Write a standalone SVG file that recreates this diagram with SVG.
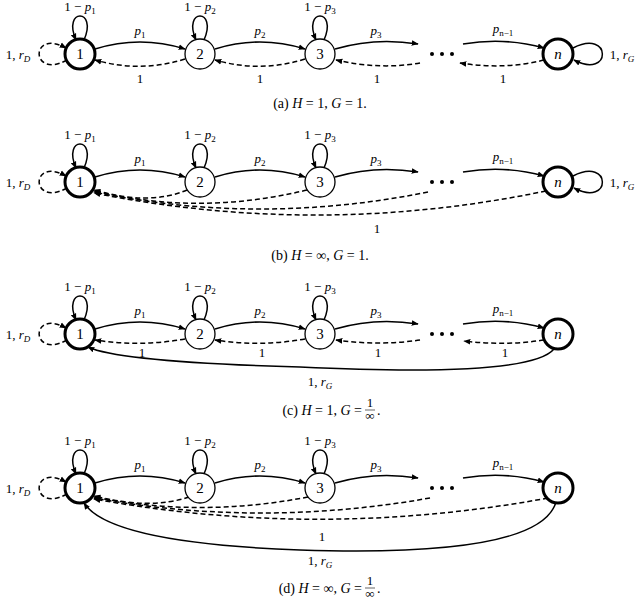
<svg xmlns="http://www.w3.org/2000/svg" width="640" height="602" viewBox="0 0 640 602">
<style>
text{font-family:"Liberation Serif","DejaVu Serif",serif;font-size:13px;text-anchor:middle;fill:#000}
.i{font-style:italic}
.s{font-size:9px}
.cap{font-size:14px}
.node circle{fill:#fff;stroke:#000;stroke-width:1.3}
.node.b circle{stroke-width:3}
.node text{font-size:15px}
.e{fill:none;stroke:#000;stroke-width:1.5;marker-end:url(#ah)}
.d{stroke-dasharray:5 3}
</style>
<defs>
<marker id="ah" viewBox="0 0 10 10" refX="9" refY="5" markerWidth="7" markerHeight="7" markerUnits="userSpaceOnUse" orient="auto"><path d="M0,1 L10,5 L0,9 Z"/></marker>
<g id="dots"><circle cx="432" cy="0" r="2"/><circle cx="442" cy="0" r="2"/><circle cx="452" cy="0" r="2"/></g>
</defs>

<!-- ===== Panel (a) ===== -->
<g transform="translate(0,54)">
<g id="connectors-a">
<path class="e" d="M84,-14 C98,-46 62,-46 76,-14"/>
<path class="e" d="M204,-14 C218,-46 182,-46 196,-14"/>
<path class="e" d="M324,-14 C338,-46 302,-46 316,-14"/>
<path class="e d" d="M67,6 C30,26 30,-26 66,-6"/>
<path class="e" d="M95,-5 Q140,-19 185,-5"/>
<path class="e" d="M215,-5 Q260,-19 305,-5"/>
<path class="e" d="M335,-5 Q375,-17 418,-10"/>
<path class="e" d="M463,-10 Q505,-17 544,-6"/>
<path class="e d" d="M185,5 Q140,19 95,6"/>
<path class="e d" d="M305,5 Q260,19 215,6"/>
<path class="e d" d="M420,9 Q380,16 336,6"/>
<path class="e d" d="M544,6 Q505,16 460,9"/>
<path class="e" d="M573,-6 C612,-26 612,26 574,6"/>
</g>
<use href="#dots"/>
<g class="node b" id="a-n1"><circle cx="80" cy="0" r="15"/><text x="80" y="5">1</text></g>
<g class="node" id="a-n2"><circle cx="200" cy="0" r="15"/><text x="200" y="5">2</text></g>
<g class="node" id="a-n3"><circle cx="320" cy="0" r="15"/><text x="320" y="5">3</text></g>
<g class="node b" id="a-nn"><circle cx="558" cy="0" r="15"/><text class="i" x="558" y="5">n</text></g>
<text x="80" y="-43">1 − <tspan class="i">p</tspan><tspan class="s" dy="3">1</tspan></text>
<text x="200" y="-43">1 − <tspan class="i">p</tspan><tspan class="s" dy="3">2</tspan></text>
<text x="320" y="-43">1 − <tspan class="i">p</tspan><tspan class="s" dy="3">3</tspan></text>
<text x="140" y="-19"><tspan class="i">p</tspan><tspan class="s" dy="3">1</tspan></text>
<text x="260" y="-19"><tspan class="i">p</tspan><tspan class="s" dy="3">2</tspan></text>
<text x="376" y="-19"><tspan class="i">p</tspan><tspan class="s" dy="3">3</tspan></text>
<text x="503" y="-21"><tspan class="i">p</tspan><tspan class="s" dy="3">n−1</tspan></text>
<text x="140" y="29">1</text><text x="260" y="29">1</text><text x="377" y="29">1</text><text x="503" y="29">1</text>
<text x="18" y="5">1, <tspan class="i">r</tspan><tspan class="s i" dy="3">D</tspan></text>
<text x="622" y="5">1, <tspan class="i">r</tspan><tspan class="s i" dy="3">G</tspan></text>
<text class="cap" x="320" y="54">(a) <tspan class="i">H</tspan> = 1, <tspan class="i">G</tspan> = 1.</text>
</g>

<!-- ===== Panel (b) ===== -->
<g transform="translate(0,182)">
<g id="connectors-b">
<path class="e" d="M84,-14 C98,-46 62,-46 76,-14"/>
<path class="e" d="M204,-14 C218,-46 182,-46 196,-14"/>
<path class="e" d="M324,-14 C338,-46 302,-46 316,-14"/>
<path class="e d" d="M67,6 C30,26 30,-26 66,-6"/>
<path class="e" d="M95,-5 Q140,-19 185,-5"/>
<path class="e" d="M215,-5 Q260,-19 305,-5"/>
<path class="e" d="M335,-5 Q375,-17 418,-10"/>
<path class="e" d="M463,-10 Q505,-17 544,-6"/>
<path class="e d" d="M187,8 Q150,24 94,8"/>
<path class="e d" d="M307,8 Q200,34 94,9"/>
<path class="e d" d="M428,10 Q260,44 94,10"/>
<path class="e d" d="M546,9 Q320,56 94,11"/>
<path class="e" d="M573,-6 C612,-26 612,26 574,6"/>
</g>
<use href="#dots"/>
<g class="node b" id="b-n1"><circle cx="80" cy="0" r="15"/><text x="80" y="5">1</text></g>
<g class="node" id="b-n2"><circle cx="200" cy="0" r="15"/><text x="200" y="5">2</text></g>
<g class="node" id="b-n3"><circle cx="320" cy="0" r="15"/><text x="320" y="5">3</text></g>
<g class="node b" id="b-nn"><circle cx="558" cy="0" r="15"/><text class="i" x="558" y="5">n</text></g>
<text x="80" y="-43">1 − <tspan class="i">p</tspan><tspan class="s" dy="3">1</tspan></text>
<text x="200" y="-43">1 − <tspan class="i">p</tspan><tspan class="s" dy="3">2</tspan></text>
<text x="320" y="-43">1 − <tspan class="i">p</tspan><tspan class="s" dy="3">3</tspan></text>
<text x="140" y="-19"><tspan class="i">p</tspan><tspan class="s" dy="3">1</tspan></text>
<text x="260" y="-19"><tspan class="i">p</tspan><tspan class="s" dy="3">2</tspan></text>
<text x="376" y="-19"><tspan class="i">p</tspan><tspan class="s" dy="3">3</tspan></text>
<text x="503" y="-21"><tspan class="i">p</tspan><tspan class="s" dy="3">n−1</tspan></text>
<text x="377" y="51">1</text>
<text x="18" y="5">1, <tspan class="i">r</tspan><tspan class="s i" dy="3">D</tspan></text>
<text x="622" y="5">1, <tspan class="i">r</tspan><tspan class="s i" dy="3">G</tspan></text>
<text class="cap" x="320" y="78">(b) <tspan class="i">H</tspan> = ∞, <tspan class="i">G</tspan> = 1.</text>
</g>

<!-- ===== Panel (c) ===== -->
<g transform="translate(0,334)">
<g id="connectors-c">
<path class="e" d="M84,-14 C98,-46 62,-46 76,-14"/>
<path class="e" d="M204,-14 C218,-46 182,-46 196,-14"/>
<path class="e" d="M324,-14 C338,-46 302,-46 316,-14"/>
<path class="e d" d="M67,6 C30,26 30,-26 66,-6"/>
<path class="e" d="M95,-5 Q140,-19 185,-5"/>
<path class="e" d="M215,-5 Q260,-19 305,-5"/>
<path class="e" d="M335,-5 Q375,-17 418,-10"/>
<path class="e" d="M463,-10 Q505,-17 544,-6"/>
<path class="e d" d="M185,5 Q140,13 95,6"/>
<path class="e d" d="M305,5 Q260,13 215,6"/>
<path class="e d" d="M420,6 Q380,12 336,6"/>
<path class="e d" d="M544,6 Q505,12 464,7"/>
<path class="e" d="M554,15 Q530,44 300,33 Q120,28 88,13"/>
</g>
<use href="#dots"/>
<g class="node b" id="c-n1"><circle cx="80" cy="0" r="15"/><text x="80" y="5">1</text></g>
<g class="node" id="c-n2"><circle cx="200" cy="0" r="15"/><text x="200" y="5">2</text></g>
<g class="node" id="c-n3"><circle cx="320" cy="0" r="15"/><text x="320" y="5">3</text></g>
<g class="node b" id="c-nn"><circle cx="558" cy="0" r="15"/><text class="i" x="558" y="5">n</text></g>
<text x="80" y="-43">1 − <tspan class="i">p</tspan><tspan class="s" dy="3">1</tspan></text>
<text x="200" y="-43">1 − <tspan class="i">p</tspan><tspan class="s" dy="3">2</tspan></text>
<text x="320" y="-43">1 − <tspan class="i">p</tspan><tspan class="s" dy="3">3</tspan></text>
<text x="140" y="-19"><tspan class="i">p</tspan><tspan class="s" dy="3">1</tspan></text>
<text x="260" y="-19"><tspan class="i">p</tspan><tspan class="s" dy="3">2</tspan></text>
<text x="376" y="-19"><tspan class="i">p</tspan><tspan class="s" dy="3">3</tspan></text>
<text x="503" y="-21"><tspan class="i">p</tspan><tspan class="s" dy="3">n−1</tspan></text>
<text x="142" y="23">1</text><text x="262" y="23">1</text><text x="378" y="23">1</text><text x="505" y="23">1</text>
<text x="320" y="52">1, <tspan class="i">r</tspan><tspan class="s i" dy="3">G</tspan></text>
<text x="18" y="5">1, <tspan class="i">r</tspan><tspan class="s i" dy="3">D</tspan></text>
</g>

<!-- ===== Panel (d) ===== -->
<g transform="translate(0,488)">
<g id="connectors-d">
<path class="e" d="M84,-14 C98,-46 62,-46 76,-14"/>
<path class="e" d="M204,-14 C218,-46 182,-46 196,-14"/>
<path class="e" d="M324,-14 C338,-46 302,-46 316,-14"/>
<path class="e d" d="M67,6 C30,26 30,-26 66,-6"/>
<path class="e" d="M95,-5 Q140,-19 185,-5"/>
<path class="e" d="M215,-5 Q260,-19 305,-5"/>
<path class="e" d="M335,-5 Q375,-17 418,-10"/>
<path class="e" d="M463,-10 Q505,-17 544,-6"/>
<path class="e d" d="M189,9 Q150,22 94,8"/>
<path class="e d" d="M308,9 Q200,30 94,9"/>
<path class="e d" d="M430,10 Q260,40 94,10"/>
<path class="e d" d="M548,10 Q320,52 94,11"/>
<path class="e" d="M556,14 Q540,70 300,62 Q110,55 84,15"/>
</g>
<use href="#dots"/>
<g class="node b" id="d-n1"><circle cx="80" cy="0" r="15"/><text x="80" y="5">1</text></g>
<g class="node" id="d-n2"><circle cx="200" cy="0" r="15"/><text x="200" y="5">2</text></g>
<g class="node" id="d-n3"><circle cx="320" cy="0" r="15"/><text x="320" y="5">3</text></g>
<g class="node b" id="d-nn"><circle cx="558" cy="0" r="15"/><text class="i" x="558" y="5">n</text></g>
<text x="80" y="-43">1 − <tspan class="i">p</tspan><tspan class="s" dy="3">1</tspan></text>
<text x="200" y="-43">1 − <tspan class="i">p</tspan><tspan class="s" dy="3">2</tspan></text>
<text x="320" y="-43">1 − <tspan class="i">p</tspan><tspan class="s" dy="3">3</tspan></text>
<text x="140" y="-19"><tspan class="i">p</tspan><tspan class="s" dy="3">1</tspan></text>
<text x="260" y="-19"><tspan class="i">p</tspan><tspan class="s" dy="3">2</tspan></text>
<text x="376" y="-19"><tspan class="i">p</tspan><tspan class="s" dy="3">3</tspan></text>
<text x="503" y="-21"><tspan class="i">p</tspan><tspan class="s" dy="3">n−1</tspan></text>
<text x="322" y="53">1</text>
<text x="320" y="77">1, <tspan class="i">r</tspan><tspan class="s i" dy="3">G</tspan></text>
<text x="18" y="5">1, <tspan class="i">r</tspan><tspan class="s i" dy="3">D</tspan></text>
</g>

<!-- captions (c) and (d) with stacked fraction -->
<g id="cap-c">
<text class="cap" x="362" y="415" style="text-anchor:end">(c) <tspan class="i">H</tspan> = 1, <tspan class="i">G</tspan> =</text>
<text x="370" y="407" font-size="9">1</text>
<line x1="365" y1="410" x2="375" y2="410" stroke="#000" stroke-width="0.6"/>
<text x="370" y="420" font-size="10">∞</text>
<text class="cap" x="377" y="415" style="text-anchor:start">.</text>
</g>
<g id="cap-d">
<text class="cap" x="362" y="593" style="text-anchor:end">(d) <tspan class="i">H</tspan> = ∞, <tspan class="i">G</tspan> =</text>
<text x="370" y="585" font-size="9">1</text>
<line x1="365" y1="588" x2="375" y2="588" stroke="#000" stroke-width="0.6"/>
<text x="370" y="598" font-size="10">∞</text>
<text class="cap" x="377" y="593" style="text-anchor:start">.</text>
</g>
</svg>
